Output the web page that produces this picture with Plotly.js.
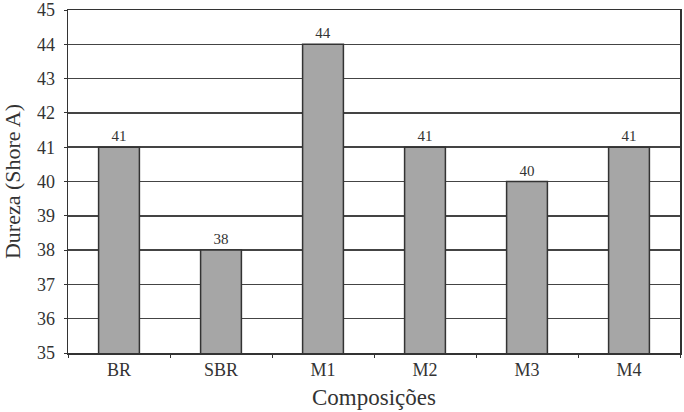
<!DOCTYPE html>
<html>
<head>
<meta charset="utf-8">
<script src="https://cdn.plot.ly/plotly-3.0.1.min.js"></script>
<style>html,body{margin:0;padding:0;background:#fff;}</style>
</head>
<body>
<div id="chart" style="width:684px;height:412px;"></div>
<script>
var categories = ["BR", "SBR", "M1", "M2", "M3", "M4"];
var hardness = [41, 38, 44, 41, 40, 41];
var yTicks = [35, 36, 37, 38, 39, 40, 41, 42, 43, 44, 45];

var font = "Liberation Serif, Times New Roman, serif";
var ink = "#333";

var trace = {
  type: "bar",
  x: categories,
  y: hardness,
  text: hardness.map(String),
  textposition: "outside",
  textfont: {family: font, size: 15, color: ink},
  cliponaxis: true,
  width: 0.4,
  marker: {color: "#a6a6a6", line: {color: ink, width: 1.5}},
  hoverinfo: "skip"
};

var layout = {
  width: 684, height: 412,
  margin: {l: 68, r: 4, t: 10, b: 59},
  paper_bgcolor: "#fff", plot_bgcolor: "#fff",
  showlegend: false,
  font: {family: font, color: ink},
  xaxis: {
    type: "category",
    showgrid: false,
    showline: true, linecolor: ink, linewidth: 1.5,
    mirror: true,
    ticks: "outside", tickson: "boundaries", ticklen: 3, tickcolor: ink,
    tickfont: {family: font, size: 18, color: ink},
    title: {text: "Composições", font: {family: font, size: 23, color: ink}, standoff: 10}
  },
  yaxis: {
    range: [35, 45],
    tickvals: yTicks,
    ticktext: yTicks.map(String),
    ticklabeloverflow: "allow",
    showgrid: true, gridcolor: "#444", gridwidth: 1.5,
    showline: true, linecolor: ink, linewidth: 1.5,
    mirror: true,
    ticks: "outside", ticklen: 3, tickcolor: ink,
    ticklabelstandoff: 5,
    tickfont: {family: font, size: 18, color: ink},
    title: {text: "Dureza (Shore A)", font: {family: font, size: 22, color: ink}, standoff: 11},
    zeroline: false
  },
  bargap: 0.6
};

Plotly.newPlot("chart", [trace], layout, {displayModeBar: false, staticPlot: true});
</script>
</body>
</html>
